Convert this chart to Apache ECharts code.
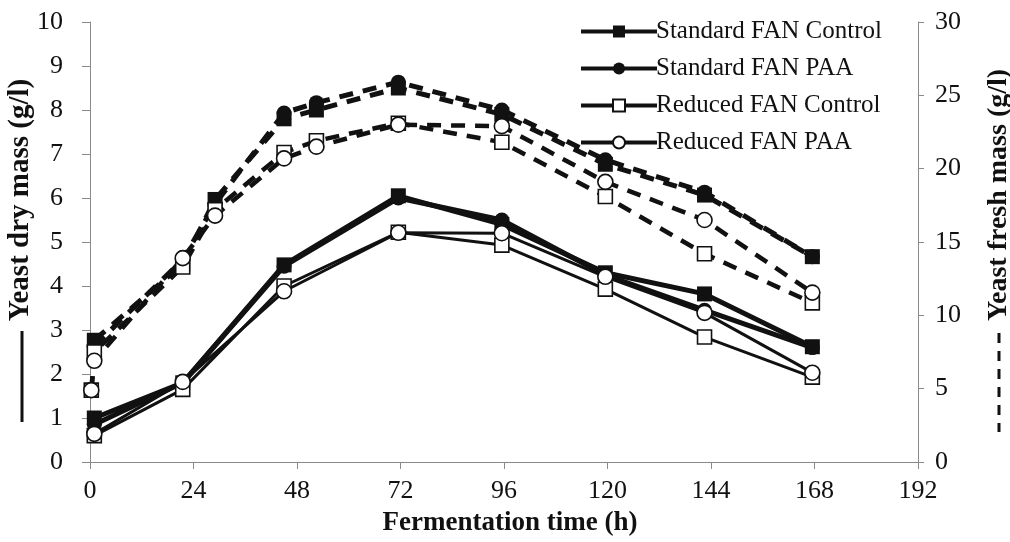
<!DOCTYPE html>
<html>
<head>
<meta charset="utf-8">
<script src="https://cdn.jsdelivr.net/npm/echarts@6/dist/echarts.min.js"></script>
<style>
  html, body { margin: 0; padding: 0; background: #fff; }
  #chart { width: 1010px; height: 542px; }
</style>
</head>
<body>
<div id="chart"></div>
<script>
// Sampling times (h)
const dryTimes = [1, 21.5, 45, 71.5, 95.5, 119.5, 142.5, 167.5];
const freshTimesStd = [1, 21.5, 29, 45, 52.5, 71.5, 95.5, 119.5, 142.5, 167.5];
const freshTimesRed = [0.3, 1, 21.5, 29, 45, 52.5, 71.5, 95.5, 119.5, 142.5, 167.5];

// Yeast dry mass (g/l), left axis
const dryStdControl = [1.0, 1.8, 4.48, 6.05, 5.4, 4.3, 3.82, 2.62];
const dryStdPAA     = [0.85, 1.8, 4.45, 6.0, 5.5, 4.25, 3.45, 2.6];
const dryRedControl = [0.6, 1.65, 4.0, 5.22, 4.93, 3.93, 2.84, 1.93];
const dryRedPAA     = [0.64, 1.82, 3.88, 5.21, 5.2, 4.21, 3.39, 2.03];

// Yeast fresh mass (g/l), right axis
const freshStdControl = [8.3, 13.5, 17.9, 23.4, 24.0, 25.5, 23.7, 20.3, 18.2, 14.0];
const freshStdPAA     = [7.9, 13.8, 17.6, 23.8, 24.5, 25.9, 24.0, 20.6, 18.4, 14.0];
const freshRedControl = [4.9, 7.5, 13.3, 17.2, 21.1, 21.9, 23.1, 21.8, 18.1, 14.2, 10.85];
const freshRedPAA     = [4.9, 6.9, 13.9, 16.8, 20.7, 21.5, 23.0, 22.9, 19.1, 16.5, 11.55];

const seriesNames = ['Standard FAN Control', 'Standard FAN PAA', 'Reduced FAN Control', 'Reduced FAN PAA'];
const xTicks = [0, 24, 48, 72, 96, 120, 144, 168, 192];

const SERIF = '"Liberation Serif", "Times New Roman", serif';
const INK = '#111';

const pairs = (ts, vs) => ts.map((t, i) => [t, vs[i]]);

const markerStyles = [
  { symbol: 'rect',   size: 15, item: { color: INK } },
  { symbol: 'circle', size: 15, item: { color: INK } },
  { symbol: 'rect',   size: 14, item: { color: '#fff', borderColor: INK, borderWidth: 1.6 } },
  { symbol: 'circle', size: 15, item: { color: '#fff', borderColor: INK, borderWidth: 1.6 } }
];
const solidWidths = [5, 5, 3, 3];
const dashWidths = [5, 5, 4.5, 4.5];

function makeSeries(idx, data, yIndex, dashed) {
  const m = markerStyles[idx];
  return {
    name: seriesNames[idx],
    type: 'line',
    yAxisIndex: yIndex,
    data: data,
    symbol: m.symbol,
    symbolSize: m.size,
    showAllSymbol: true,
    itemStyle: m.item,
    lineStyle: {
      color: INK,
      width: dashed ? dashWidths[idx] : solidWidths[idx],
      type: dashed ? [14, 10] : 'solid'
    },
    emphasis: { disabled: true },
    animation: false,
    z: dashed ? 2 : 3
  };
}

const series = [
  // solid lines: dry mass (first so the legend picks up the solid icon)
  makeSeries(0, pairs(dryTimes, dryStdControl), 0, false),
  makeSeries(1, pairs(dryTimes, dryStdPAA), 0, false),
  makeSeries(2, pairs(dryTimes, dryRedControl), 0, false),
  makeSeries(3, pairs(dryTimes, dryRedPAA), 0, false),
  // dashed lines: fresh mass
  makeSeries(0, pairs(freshTimesStd, freshStdControl), 1, true),
  makeSeries(1, pairs(freshTimesStd, freshStdPAA), 1, true),
  makeSeries(2, pairs(freshTimesRed, freshRedControl), 1, true),
  makeSeries(3, pairs(freshTimesRed, freshRedPAA), 1, true)
];

const axisLine = { show: true, lineStyle: { color: '#8a8a8a', width: 1 } };

const chart = echarts.init(document.getElementById('chart'), null, { renderer: 'canvas' });
chart.setOption({
  backgroundColor: '#fff',
  animation: false,
  grid: { left: 90, right: 92, top: 22, bottom: 80, containLabel: false },
  legend: {
    data: seriesNames,
    orient: 'vertical',
    left: 574,
    top: 14,
    itemWidth: 76,
    itemHeight: 15,
    itemGap: 12,
    lineStyle: { width: 4, color: INK },
    textStyle: { fontFamily: SERIF, fontSize: 25, color: INK, lineHeight: 25, padding: [0, 0, 0, -6] },
    selectedMode: false
  },
  xAxis: {
    type: 'value',
    min: 0, max: 192, interval: 24,
    axisLine: axisLine,
    axisTick: { show: true, length: 7, lineStyle: { color: '#8a8a8a' } },
    splitLine: { show: false },
    axisLabel: {
      margin: 16,
      fontFamily: SERIF, fontSize: 26, color: INK,
      formatter: v => (xTicks.indexOf(v) >= 0 ? String(v) : '')
    }
  },
  yAxis: [
    {
      type: 'value', position: 'left',
      min: 0, max: 10, interval: 1,
      axisLine: axisLine,
      axisTick: { show: true, length: 8, lineStyle: { color: '#8a8a8a' } },
      splitLine: { show: false },
      axisLabel: { margin: 27, fontFamily: SERIF, fontSize: 26, color: INK }
    },
    {
      type: 'value', position: 'right',
      min: 0, max: 30, interval: 5,
      axisLine: axisLine,
      axisTick: { show: true, length: 6, lineStyle: { color: '#8a8a8a' } },
      splitLine: { show: false },
      axisLabel: { margin: 17, fontFamily: SERIF, fontSize: 26, color: INK }
    }
  ],
  graphic: [
    // left axis title with solid-line key
    {
      type: 'text', x: 21, y: 200, rotation: Math.PI / 2,
      style: { text: 'Yeast dry mass (g/l)', font: 'bold 29px ' + SERIF, fill: INK, textAlign: 'center', textVerticalAlign: 'middle' }
    },
    {
      type: 'line', shape: { x1: 22, y1: 331, x2: 22, y2: 422 },
      style: { stroke: INK, lineWidth: 3 }
    },
    // right axis title with dashed-line key
    {
      type: 'text', x: 999, y: 195, rotation: Math.PI / 2,
      style: { text: 'Yeast fresh mass (g/l)', font: 'bold 28px ' + SERIF, fill: INK, textAlign: 'center', textVerticalAlign: 'middle' }
    },
    {
      type: 'line', shape: { x1: 999, y1: 333, x2: 999, y2: 432 },
      style: { stroke: INK, lineWidth: 3, lineDash: [10, 8] }
    },
    // x axis title
    {
      type: 'text', x: 510, y: 523,
      style: { text: 'Fermentation time (h)', font: 'bold 27px ' + SERIF, fill: INK, textAlign: 'center', textVerticalAlign: 'middle' }
    }
  ],
  series: series
});
</script>
</body>
</html>
